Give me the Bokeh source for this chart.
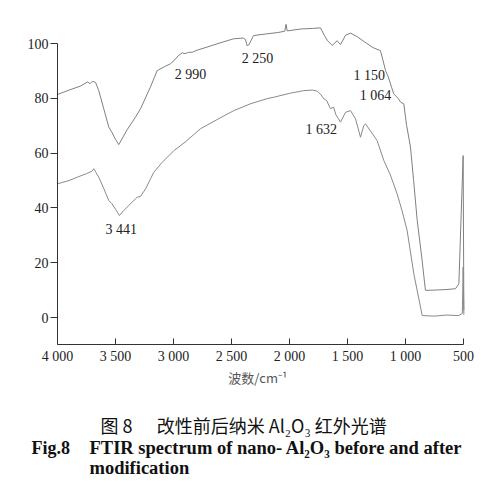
from bokeh.plotting import figure
from bokeh.models import Label, FixedTicker
from bokeh.embed import file_html
from bokeh.resources import INLINE

# --- data ---
wn_top = [4000, 3900, 3800, 3740, 3720, 3700, 3672, 3660, 3644, 3600, 3558, 3530, 3500, 3472,
          3440, 3400, 3328, 3284, 3200, 3141, 3080, 3026, 2990, 2960, 2925, 2900, 2870, 2839,
          2800, 2710, 2600, 2483, 2400, 2380, 2365, 2350, 2310, 2200, 2100, 2040, 2030, 2020,
          1900, 1800, 1733, 1700, 1672, 1632, 1589, 1560, 1517, 1474, 1417, 1350, 1280, 1216,
          1195, 1172, 1150, 1120, 1101, 1064, 1040, 1015, 990, 957, 930, 899, 860, 828, 750,
          650, 569, 540, 503, 497]
tr_top = [81.4, 83.0, 84.5, 86.0, 85.3, 86.2, 85.8, 84.5, 82.8, 76.0, 69.5, 67.5, 65.0, 63.1,
          65.5, 68.5, 73.1, 76.2, 84.0, 90.1, 91.5, 92.6, 94.0, 95.5, 96.6, 96.3, 96.8, 96.8,
          97.5, 98.7, 100.2, 101.7, 102.0, 101.5, 99.2, 99.5, 102.9, 103.5, 104.0, 104.5, 107.0, 104.6,
          105.3, 105.5, 105.7, 103.0, 101.0, 99.3, 101.0, 99.6, 103.0, 103.8, 102.5, 100.5, 98.5, 97.4,
          94.0, 90.1, 88.0, 84.0, 81.6, 80.0, 78.5, 78.0, 70.0, 62.2, 50.0, 35.4, 22.0, 9.9, 10.0,
          10.2, 10.5, 12.3, 59.1, 2.6]

wn_bot = [4000, 3900, 3830, 3750, 3700, 3687, 3670, 3644, 3600, 3558, 3530, 3500, 3466, 3430,
          3385, 3313, 3284, 3240, 3170, 3100, 2997, 2900, 2767, 2600, 2480, 2336, 2200, 2135,
          2000, 1877, 1800, 1761, 1733, 1704, 1680, 1647, 1620, 1600, 1560, 1517, 1474, 1431,
          1388, 1360, 1345, 1245, 1187, 1130, 1072, 1030, 986, 928, 856, 750, 650, 540, 510,
          503, 497]
tr_bot = [48.8, 50.0, 51.2, 52.5, 53.5, 54.3, 53.0, 51.2, 47.0, 42.7, 41.5, 39.5, 37.2, 39.0,
          40.9, 43.9, 44.2, 47.0, 53.0, 56.5, 60.9, 64.0, 68.9, 72.8, 75.5, 78.0, 79.8, 80.4,
          81.8, 82.8, 83.0, 82.6, 81.5, 79.8, 79.2, 76.2, 76.8, 74.0, 71.3, 74.9, 75.5, 72.5,
          65.8, 70.0, 70.7, 64.6, 57.3, 52.0, 45.1, 39.0, 31.8, 15.9, 0.7, 0.5, 0.9, 0.7, 1.5,
          18.4, 1.0]

x_ticks = [4000, 3500, 3000, 2500, 2000, 1500, 1000, 500]
x_tick_labels = ["4 000", "3 500", "3 000", "2 500", "2 000", "1 500", "1 000", "500"]
y_ticks = [0, 20, 40, 60, 80, 100]

peak_texts = ["3 441", "2 990", "2 250", "1 632", "1 150", "1 064"]
peak_x = [3450, 2853, 2276, 1726, 1312, 1259]
peak_y = [32.0, 88.7, 94.4, 68.5, 88.3, 81.0]

SERIF = "Liberation Serif"
CJK = "Noto Sans CJK SC"
NB = "\u00a0"

# layout: frame covers the whole canvas; axes drawn at fixed locations
W = H = 479
PX_X = 406 / 3500.0       # px per cm-1
PX_Y = 274 / 100.0        # px per % unit
X0_PX, Y0_PX = 57, 317    # pixel of x=4000 and of y=0
x_start = 4000 + X0_PX / PX_X
x_end = 4000 - (W - X0_PX) / PX_X
y_top = Y0_PX / PX_Y
y_bot = -(H - Y0_PX) / PX_Y

p = figure(width=W, height=H, output_backend="svg", toolbar_location=None,
           x_range=(x_start, x_end), y_range=(y_bot, y_top),
           min_border=0, min_border_left=0, min_border_right=0,
           min_border_top=0, min_border_bottom=0)
p.outline_line_color = None
p.grid.visible = False
p.background_fill_color = "white"
p.border_fill_color = "white"

p.line(wn_top, tr_top, line_color="#808080", line_width=1.0)
p.line(wn_bot, tr_bot, line_color="#8a8a8a", line_width=1.0)

xa = p.xaxis[0]
xa.fixed_location = -9.9
xa.ticker = FixedTicker(ticks=x_ticks)
xa.major_label_overrides = {t: l for t, l in zip(x_ticks, x_tick_labels)}
xa.minor_tick_line_color = None
xa.major_tick_in = 6
xa.major_tick_out = 0
xa.major_label_standoff = 4
xa.bounds = (4000, 500)
xa.axis_line_color = "#333333"
xa.major_tick_line_color = "#333333"
xa.major_label_text_font = SERIF
xa.major_label_text_font_size = "14px"
xa.major_label_text_color = "#222222"

ya = p.yaxis[0]
ya.fixed_location = 4000
ya.ticker = FixedTicker(ticks=y_ticks)
ya.minor_tick_line_color = None
ya.major_tick_in = 0
ya.major_tick_out = 7
ya.major_label_standoff = 2
ya.bounds = (-9.9, 100)
ya.axis_line_color = "#333333"
ya.major_tick_line_color = "#333333"
ya.major_label_text_font = SERIF
ya.major_label_text_font_size = "14px"
ya.major_label_text_color = "#222222"

for t, x, y in zip(peak_texts, peak_x, peak_y):
    p.add_layout(Label(x=x, y=y, text=t, text_font=SERIF, text_font_size="14px",
                       text_color="#222222", text_align="center", text_baseline="middle"))

# x axis title
p.add_layout(Label(x=2276, y=-21.9, text="波数/cm⁻¹", text_font=CJK, text_font_size="13px",
                   text_color="#555555", text_align="center", text_baseline="middle"))

# figure caption
p.add_layout(Label(x=3629, y=-39.4, text="图 8" + NB * 6 + "改性前后纳米 Al₂O₃ 红外光谱",
                   text_font=CJK, text_font_size="18px", text_color="#111111",
                   text_align="left", text_baseline="alphabetic"))
p.add_layout(Label(x=4224, y=-47.8, text="Fig.8", text_font=SERIF, text_font_style="bold",
                   text_font_size="18px", text_color="#111111",
                   text_align="left", text_baseline="alphabetic"))
p.add_layout(Label(x=3724, y=-47.8, text="FTIR spectrum of nano- Al₂O₃ before and after",
                   text_font=SERIF, text_font_style="bold", text_font_size="18.5px",
                   text_color="#111111", text_align="left", text_baseline="alphabetic"))
p.add_layout(Label(x=3724, y=-55.1, text="modification", text_font=SERIF,
                   text_font_style="bold", text_font_size="18.5px", text_color="#111111",
                   text_align="left", text_baseline="alphabetic"))

open("out.html", "w").write(file_html(p, INLINE))
